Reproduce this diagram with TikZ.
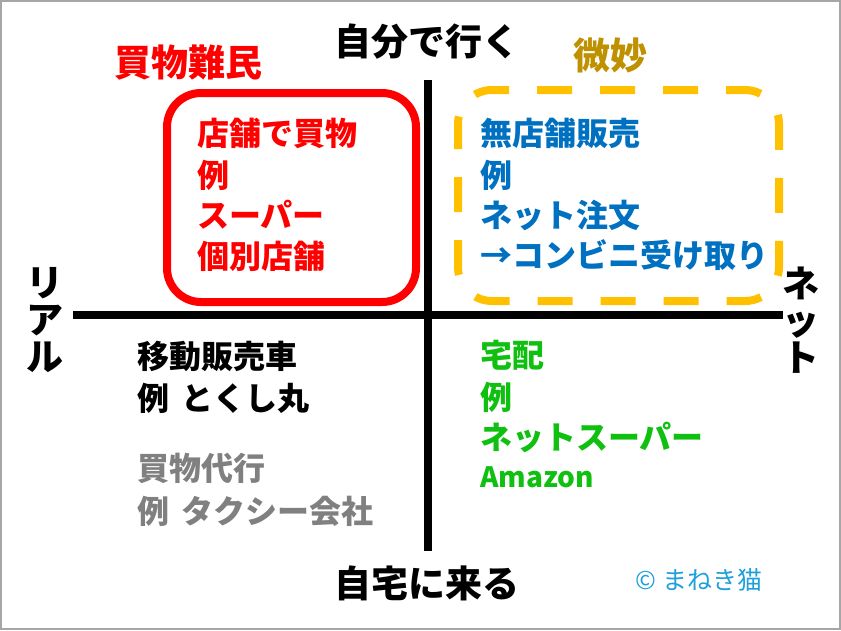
\documentclass[tikz,border=0pt]{standalone}
\usepackage{fontspec}
\usepackage{xcolor}
\usepackage{tikz}
\usetikzlibrary{positioning}

\newfontfamily\jpfont{Noto Sans CJK JP}

\definecolor{nanmin}{HTML}{FF0000}
\definecolor{mumise}{HTML}{0070C0}
\definecolor{takuhai}{HTML}{10C010}
\definecolor{daiko}{HTML}{808080}
\definecolor{bimyo}{HTML}{BF9000}
\definecolor{bimyobox}{HTML}{FFC000}
\definecolor{credit}{HTML}{1EA0DC}

\tikzset{
  axislabel/.style={font=\jpfont\bfseries\fontsize{37}{37}\selectfont,inner sep=0pt},
  itemline/.style={anchor=west,inner sep=0pt,font=\jpfont\bfseries\fontsize{32}{40}\selectfont},
  axisline/.style={line width=8pt},
}

\begin{document}
\begin{tikzpicture}[x=1pt,y=-1pt]
\useasboundingbox (0,0) rectangle (841,630);
\draw[daiko!70,line width=2pt] (1,1) rectangle (840,629);

% Axes
\coordinate (top) at (428,80);
\coordinate (bottom) at (428,551);
\coordinate (left) at (73,315);
\coordinate (right) at (783,315);
\draw[axisline] (top) -- (bottom);
\draw[axisline] (left) -- (right);

% Axis labels
\node[axislabel] (jibun) at (427,42) {自分で行く};
\node[axislabel] (jitaku) at (427,583) {自宅に来る};
\node[axislabel,align=center] (real) at (45,320) {リ\\ア\\ル};
\node[axislabel,align=center] (net) at (801,320) {ネ\\ッ\\ト};

% Titles
\node[axislabel,text=nanmin] (nanmintitle) at (188,63) {買物難民};
\node[axislabel,text=bimyo] (bimyotitle) at (610,55) {微妙};

% Boxes
\draw[nanmin,line width=8pt,rounded corners=34pt] (167,93) rectangle (416,302);
\draw[bimyobox,line width=8pt,rounded corners=34pt,dash pattern=on 35pt off 28pt,dash phase=10pt]
  (458,90) rectangle (779,301);

% Upper left
\node[itemline,text=nanmin] (r1) at (197,133) {店舗で買物};
\node[itemline,text=nanmin] (r2) at (197,175) {例};
\node[itemline,text=nanmin] (r3) at (197,215) {スーパー};
\node[itemline,text=nanmin] (r4) at (197,256) {個別店舗};

% Upper right
\node[itemline,text=mumise] (b1) at (480,133) {無店舗販売};
\node[itemline,text=mumise] (b2) at (480,175) {例};
\node[itemline,text=mumise] (b3) at (480,215) {ネット注文};
\node[itemline,text=mumise] (b4) at (480,255) {→コンビニ受け取り};

% Lower left
\node[itemline] (k1) at (137,356) {移動販売車};
\node[itemline] (k2) at (137,398) {例\hspace{0.4em}とくし丸};
\node[itemline,text=daiko] (g1) at (137,468) {買物代行};
\node[itemline,text=daiko] (g2) at (137,511) {例\hspace{0.4em}タクシー会社};

% Lower right
\node[itemline,text=takuhai] (t1) at (480,355) {宅配};
\node[itemline,text=takuhai] (t2) at (480,397) {例};
\node[itemline,text=takuhai] (t3) at (480,437) {ネットスーパー};
\node[itemline,text=takuhai,font=\jpfont\bfseries\fontsize{28}{40}\selectfont] (t4) at (480,477) {Amazon};

% Credit
\node[font=\jpfont\fontsize{25}{28}\selectfont,text=credit,inner sep=0pt] (maneki) at (699,580) {© まねき猫};

\end{tikzpicture}
\end{document}
